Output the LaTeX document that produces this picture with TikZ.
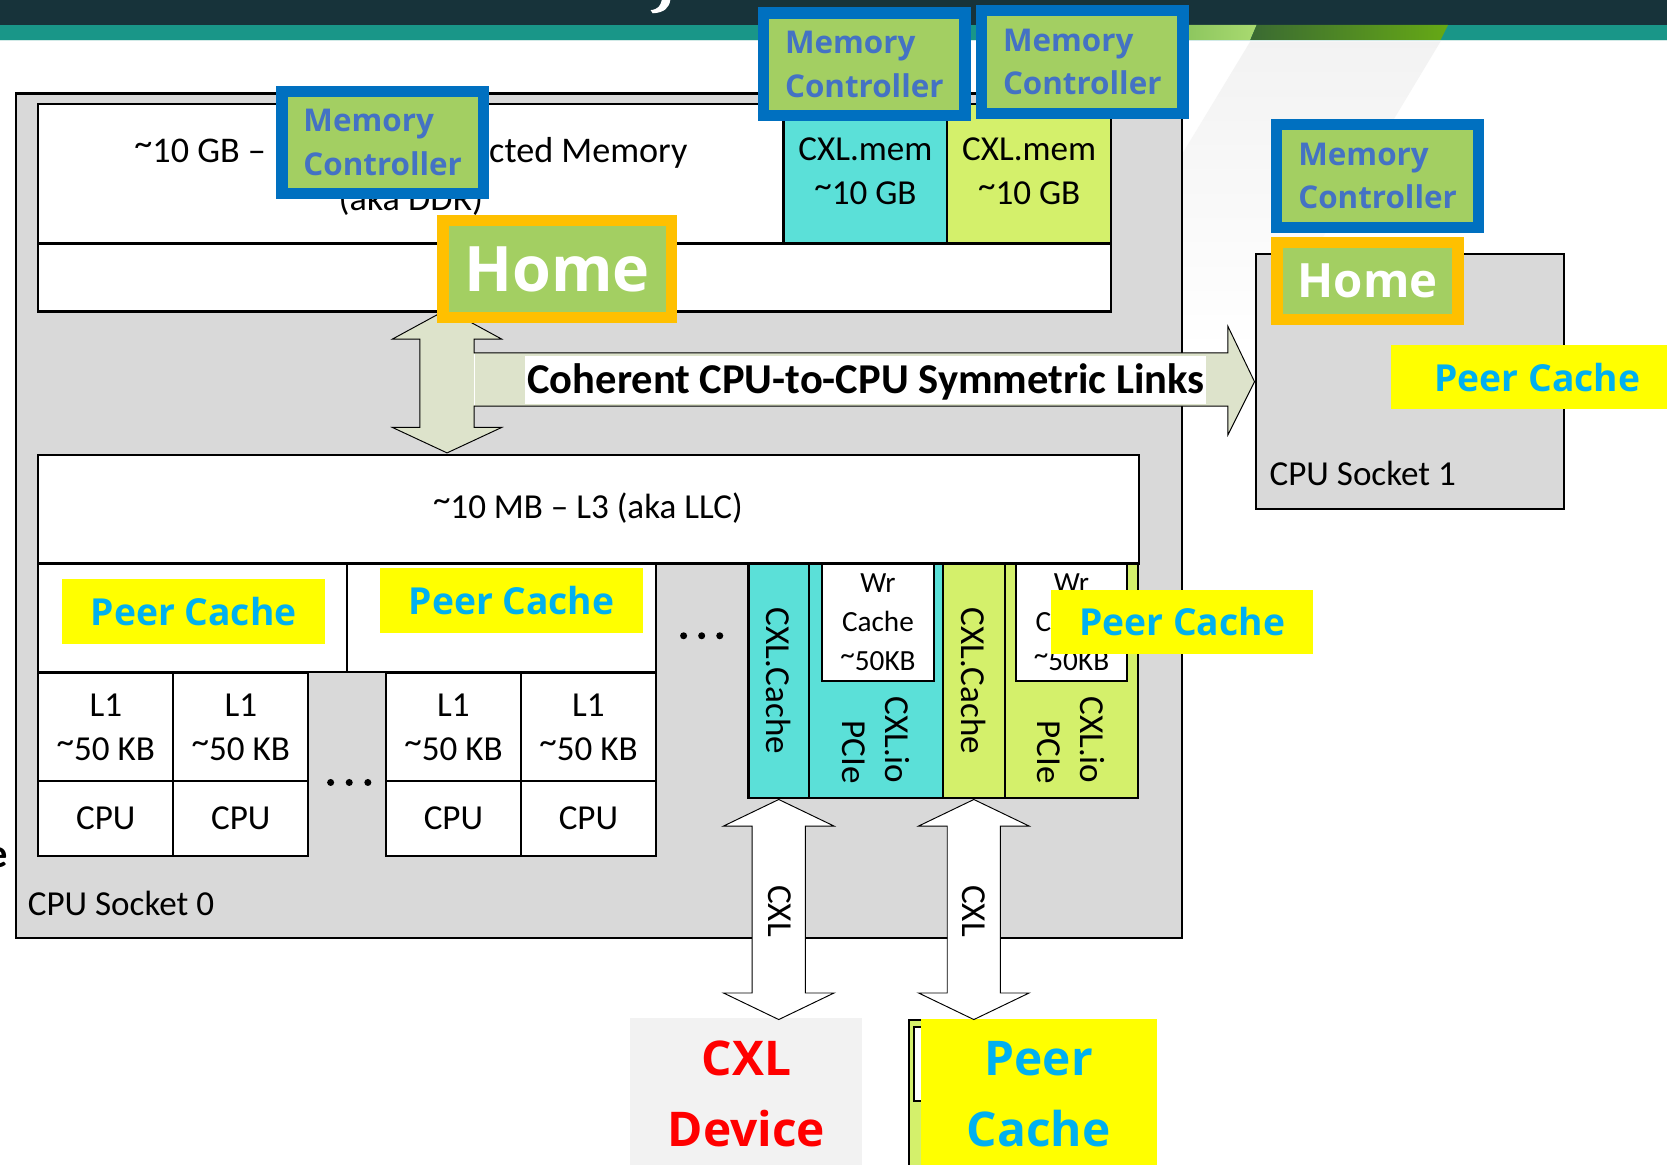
\documentclass[tikz,border=0pt]{standalone}
\usepackage{fontspec}
\setmainfont{Carlito}
\newfontfamily\osans{Open Sans}
% raised tilde as set in the slide font
\newcommand\tld{\raisebox{0.2em}{\textasciitilde}}

\definecolor{bardark}{HTML}{17333A}
\definecolor{barteal}{HTML}{199688}
\definecolor{bandlight1}{HTML}{86C15A}
\definecolor{bandlight2}{HTML}{A9DA70}
\definecolor{banddark}{HTML}{3A6A32}
\definecolor{bandbright}{HTML}{66A915}
\definecolor{socketgray}{HTML}{D9D9D9}
\definecolor{mcblue}{HTML}{0070C0}
\definecolor{mcgreen}{HTML}{A3CF62}
\definecolor{mctext}{HTML}{4472C4}
\definecolor{homeorange}{HTML}{FFC000}
\definecolor{peeryellow}{HTML}{FFFF00}
\definecolor{peerblue}{HTML}{00B0F0}
\definecolor{cxlcyan}{HTML}{5BE0D8}
\definecolor{cxlgreen}{HTML}{D4F06B}
\definecolor{arrowfill}{HTML}{DDE3CB}
\definecolor{devgray}{HTML}{F2F2F2}
\definecolor{devred}{HTML}{FF0000}

\begin{document}
\begin{tikzpicture}[x=1pt,y=-1pt,
  txt/.style={inner sep=0, font=\fontsize{33}{41}\selectfont, align=center},
  cell/.style={draw=black, line width=2, fill=white, inner sep=0, align=center,
               font=\fontsize{33}{41}\selectfont},
  socket/.style={draw=black, line width=2, fill=socketgray, inner sep=0},
  mcbox/.style={draw=mcblue, line width=10.5, fill=mcgreen, text=mctext, inner sep=0,
                align=left, font=\osans\bfseries\fontsize{29.5}{41}\selectfont},
  homebox/.style={draw=homeorange, line width=11, fill=mcgreen, text=white, inner sep=0},
  peerbox/.style={fill=peeryellow, text=peerblue, inner sep=0, align=center,
                  font=\osans\bfseries\fontsize{35}{40}\selectfont},
  blockarrow/.style={draw=black, line width=0.9, line join=miter},
  dot/.style={circle, fill=black, inner sep=0, minimum size=6.6}
]
\useasboundingbox (0,0) rectangle (1568,1095);
\fill[white] (0,0) rectangle (1568,1095);

% faint diagonal sheen of the slide background
\shade[top color=black!5, bottom color=white] (1176,39) -- (1355,39) -- (1180,330) -- (1000,330) -- cycle;

% title bars
\fill[bardark] (0,0) rectangle (1568,23.5);
\fill[barteal] (0,23.5) rectangle (1568,37.6);
\fill[barteal!20] (0,37.6) rectangle (1568,39);
\shade[left color=bandlight1, right color=bandlight2] (1100,23.5) -- (1182,23.5) -- (1176,37.6) -- (1100,37.6) -- cycle;
\shade[left color=banddark, right color=bandbright] (1182,23.5) -- (1362,23.5) -- (1355,37.6) -- (1176,37.6) -- cycle;
\fill[white] (622.5,0) -- (630.5,0) .. controls (629.5,7) and (625,12) .. (614,12.5)
  -- (612,9.5) .. controls (619,9) and (621.5,5) .. (622.5,0) -- cycle;

% sockets
\node[socket, minimum width=1097, minimum height=794] (sock0) at (563.5,485) {};
\node[socket, minimum width=290, minimum height=240] (sock1) at (1326,359) {};
\node[txt, anchor=base west] (sock0lbl) at (26,861) {CPU Socket 0};
\node[txt, anchor=base west] (sock1lbl) at (1194,457) {CPU Socket 1};

% memory attached to socket 0
\node[cell, minimum width=701, minimum height=131] (ddr) at (386.5,163.5) {};
\node[cell, fill=cxlcyan, minimum width=154, minimum height=131] (memA) at (814,163.5) {};
\node[cell, fill=cxlgreen, minimum width=154, minimum height=131] (memB) at (968,163.5) {};
\node[cell, minimum width=1009, minimum height=64] (ddrlow) at (540.5,261) {};
\node[txt, font=\fontsize{34}{41}\selectfont, anchor=base] (ddrA) at (386.5,153) {\tld10 GB – Directly Connected Memory};
\node[txt, font=\fontsize{34}{41}\selectfont, anchor=base] (ddrB) at (386.5,198) {(aka DDR)};
\node[txt] (memAlbl) at (814,161) {CXL.mem\\\tld10 GB};
\node[txt] (memBlbl) at (968,161) {CXL.mem\\\tld10 GB};

% last level cache
\node[cell, minimum width=1035, minimum height=102] (l3) at (553.5,479) {};
\node[txt, anchor=base] (l3lbl) at (553,488) {\tld10 MB – L3 (aka LLC)};

% core clusters
\node[cell, minimum width=290, minimum height=102] (pcA) at (181,581) {};
\node[cell, minimum width=291, minimum height=102] (pcB) at (471.5,581) {};
\node[cell, minimum width=127, minimum height=102] (l1a) at (99.5,684) {L1\\\tld50 KB};
\node[cell, minimum width=127, minimum height=102] (l1b) at (226.5,684) {L1\\\tld50 KB};
\node[cell, minimum width=127, minimum height=102] (l1c) at (426.5,684) {L1\\\tld50 KB};
\node[cell, minimum width=127, minimum height=102] (l1d) at (553.5,684) {L1\\\tld50 KB};
\node[cell, minimum width=127, minimum height=70] (cpua) at (99.5,770) {CPU};
\node[cell, minimum width=127, minimum height=70] (cpub) at (226.5,770) {CPU};
\node[cell, minimum width=127, minimum height=70] (cpuc) at (426.5,770) {CPU};
\node[cell, minimum width=127, minimum height=70] (cpud) at (553.5,770) {CPU};
\node[dot] (dA1) at (311,736) {};
\node[dot] (dA2) at (328.5,736) {};
\node[dot] (dA3) at (346,736) {};
\node[dot] (dB1) at (643,598) {};
\node[dot] (dB2) at (660,598) {};
\node[dot] (dB3) at (677,598) {};

% CXL ports
\node[cell, fill=cxlcyan, minimum width=57, minimum height=221] (ccA) at (732.5,640.5) {};
\node[cell, fill=cxlcyan, minimum width=126, minimum height=221] (ioA) at (824,640.5) {};
\node[cell, fill=cxlgreen, minimum width=58, minimum height=221] (ccB) at (916,640.5) {};
\node[cell, fill=cxlgreen, minimum width=125, minimum height=221] (ioB) at (1007.5,640.5) {};
\node[cell, minimum width=105.6, minimum height=110.6, font=\fontsize{27.5}{36.5}\selectfont] (wrA) at (825.8,585.3) {Wr\\Cache\\\tld50KB};
\node[cell, minimum width=104.3, minimum height=110.6, font=\fontsize{27.5}{36.5}\selectfont] (wrB) at (1007.85,585.3) {Wr\\Cache\\\tld50KB};
\node[txt, rotate=-90] (ccAlbl) at (ccA.center) {CXL.Cache};
\node[txt, rotate=-90] (ccBlbl) at (ccB.center) {CXL.Cache};
\node[txt, rotate=-90, align=right] (ioAlbl) at (824,696) {CXL.io\\PCIe};
\node[txt, rotate=-90, align=right] (ioBlbl) at (1007.5,696) {CXL.io\\PCIe};

% coherent links: home <-> L3 and socket 0 -> socket 1
\draw[blockarrow, fill=arrowfill]
  (420.5,291) -- (472,319) -- (446,319) -- (446,332) -- (1155,332) -- (1155,307)
  -- (sock1.west) -- (1155,409) -- (1155,382) -- (446,382) -- (446,402) -- (472,402)
  -- (420.5,426) -- (369,402) -- (395,402) -- (395,319) -- (369,319) -- cycle;
\draw[white, line width=1.5] (446.5,333) -- (446.5,381);
\node[fill=white, inner sep=0, minimum width=640, minimum height=45] (linkbg) at (814,357.5) {};
\node[inner sep=0, anchor=base, font=\bfseries\fontsize{40}{44}\selectfont] (linklbl) at (814.5,370) {Coherent CPU-to-CPU Symmetric Links};

% devices below socket 0
\node[fill=devgray, inner sep=0, minimum width=218, minimum height=142.6] (dev) at (702,1029) {};
\node[inner sep=0, align=center, text=devred, font=\osans\bfseries\fontsize{45}{66.6}\selectfont] (devlbl) at (702,1029) {CXL\\Device};
\node[draw=black, line width=2, fill=cxlgreen, inner sep=0, minimum width=220, minimum height=160] (pdev) at (965,1039) {};
\node[cell, minimum width=140, minimum height=70] (pdevwr) at (930,1001) {};
\node[peerbox, font=\osans\bfseries\fontsize{45}{66.6}\selectfont, minimum width=222, minimum height=140.8] (pdevlbl) at (977,1029) {Peer\\Cache};

% CXL links
\draw[blockarrow, fill=white] (ccA.south) -- ++(52,25) -- ++(-27,0) -- ++(0,157) -- ++(27,0)
  -- ++(-52,25) -- ++(-52,-25) -- ++(27,0) -- ++(0,-157) -- ++(-27,0) -- cycle;
\draw[blockarrow, fill=white] (ccB.south) -- ++(52,25) -- ++(-27,0) -- ++(0,157) -- ++(27,0)
  -- ++(-52,25) -- ++(-52,-25) -- ++(27,0) -- ++(0,-157) -- ++(-27,0) -- cycle;
\node[txt, rotate=-90] (cxlA) at (733,857) {CXL};
\node[txt, rotate=-90] (cxlB) at (916,857) {CXL};

% memory controllers
\node[mcbox, minimum width=189.5, minimum height=95.9] (mc0) at (360,133.8) {Memory\\Controller};
\node[mcbox, minimum width=189.5, minimum height=96.5] (mcA) at (813,60.5) {Memory\\Controller};
\node[mcbox, minimum width=189.5, minimum height=96.8] (mcB) at (1018,58.35) {Memory\\Controller};
\node[mcbox, minimum width=189.9, minimum height=96.5] (mc1) at (1295.8,165.5) {Memory\\Controller};

% home agents
\node[homebox, minimum width=215, minimum height=91, font=\osans\bfseries\fontsize{59}{60}\selectfont] (home0) at (524,253) {Home};
\node[homebox, minimum width=170.4, minimum height=72.4, font=\osans\bfseries\fontsize{44.5}{46}\selectfont] (home1) at (1286.3,264.3) {Home};

% peer caches
\node[peerbox, minimum width=247, minimum height=60.5] (peerA) at (182.25,575.25) {Peer Cache};
\node[peerbox, minimum width=247.4, minimum height=60.5] (peerB) at (481.1,564.75) {Peer Cache};
\node[peerbox, minimum width=246, minimum height=60] (peerC) at (1112,585) {Peer Cache};
\node[peerbox, minimum width=275, minimum height=60.5] (peerD) at (1446,354.75) {Peer Cache};

% cut-off letter at the left edge
\node[inner sep=0, anchor=base east, font=\bfseries\fontsize{38}{40}\selectfont] (edgee) at (7.5,816) {e};
\end{tikzpicture}
\end{document}
